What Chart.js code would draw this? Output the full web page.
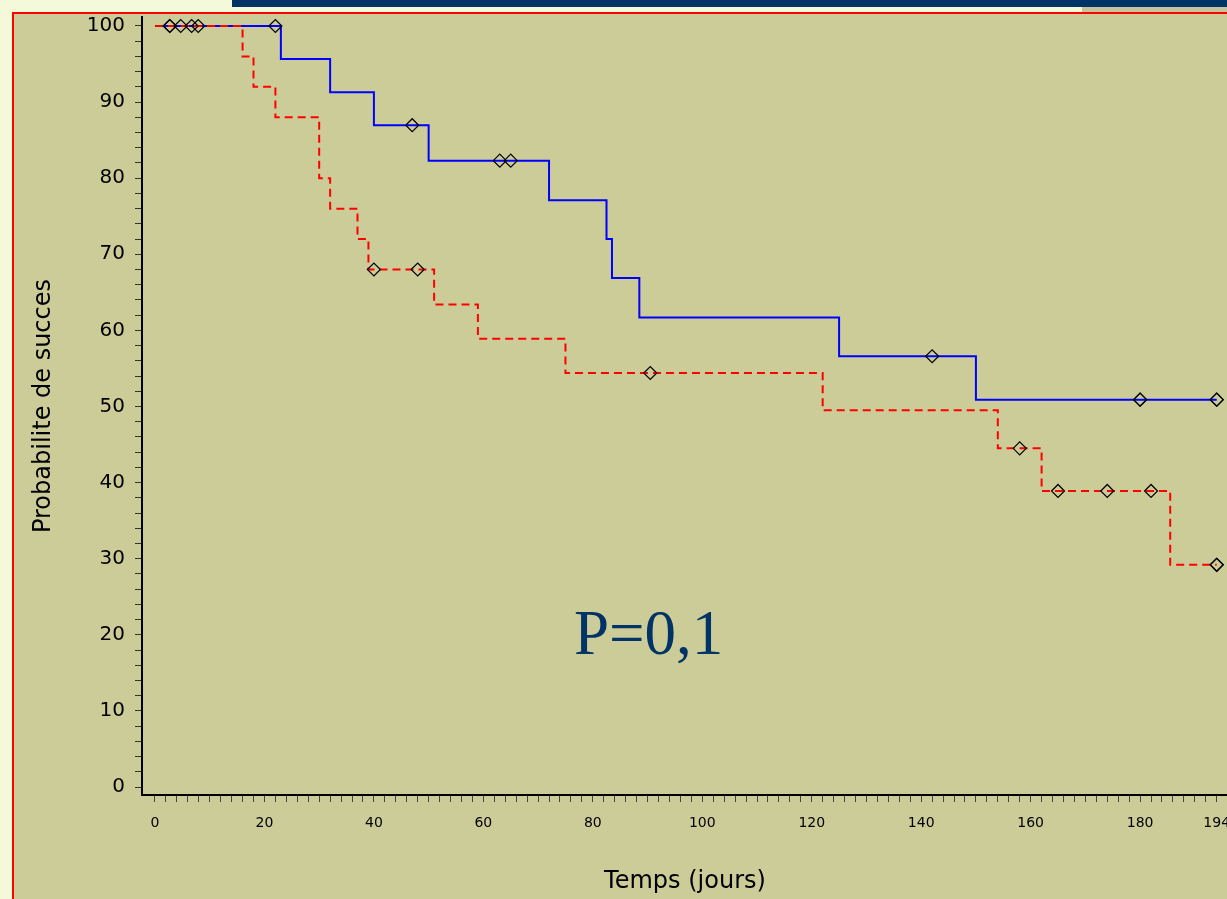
<!DOCTYPE html>
<html><head><meta charset="utf-8">
<script src="https://cdn.jsdelivr.net/npm/chart.js@4.4.0/dist/chart.umd.min.js"></script>
<style>
html,body{margin:0;padding:0;width:1227px;height:899px;overflow:hidden;background:#F4F9D9;}
#bar{position:absolute;left:232px;top:0;width:995px;height:7px;background:#003366;}
#strip{position:absolute;left:1082px;top:7px;width:145px;height:5px;background:#C7C39C;}
#frame{position:absolute;left:12px;top:12px;width:1300px;height:1000px;border-left:2px solid #FF0000;border-top:2px solid #FF0000;background:#CCCC99;}
#wrap{position:absolute;left:0;top:0;width:1240px;height:899px;}
</style></head><body>
<div id="bar"></div><div id="strip"></div><div id="frame"></div>
<div id="wrap"><canvas id="c" width="1240" height="899"></canvas></div>
<script>
// ---- data ----
const blueTimes = [0, 23, 32, 40, 50, 72, 82.5, 83.5, 88.5, 125, 150, 194];
const blueSurv  = [100, 95.65, 91.3, 86.96, 82.3, 77.1, 72.0, 66.9, 61.7, 56.6, 50.9, 50.9];
const blueCensorTimes = [2.7, 7.9, 22, 47, 63, 65, 142, 180, 180, 194, 194];
const redTimes = [0, 16, 18, 22, 30, 32, 37, 39, 51, 59, 75, 122, 154, 162, 185.5, 194];
const redSurv  = [100, 96, 92, 88, 80, 76, 72, 68, 63.4, 58.9, 54.4, 49.5, 44.5, 38.9, 29.2, 29.2];
const redCensorTimes = [2.7, 4.7, 6.7, 40, 48, 90.5, 158, 165, 174, 182, 194, 194];
const xTickLabels = [0, 20, 40, 60, 80, 100, 120, 140, 160, 180, 194];
const yTickLabels = [0, 10, 20, 30, 40, 50, 60, 70, 80, 90, 100];
const xTitle = 'Temps (jours)';
const yTitle = 'Probabilite de succes';
const annotationText = 'P=0,1';

function stepValue(times, surv, t) {
  let v = surv[0];
  for (let i = 0; i < times.length; i++) { if (times[i] <= t) v = surv[i]; }
  return v;
}
const bluePts = blueTimes.map((t, i) => ({x: t, y: blueSurv[i]}));
const redPts = redTimes.map((t, i) => ({x: t, y: redSurv[i]}));
const blueCens = blueCensorTimes.map(t => ({x: t, y: stepValue(blueTimes, blueSurv, t)}));
const redCens = redCensorTimes.map(t => ({x: t, y: stepValue(redTimes, redSurv, t)}));

const annot = {
  id: 'annot',
  afterDatasetsDraw(chart) {
    const ctx = chart.ctx;
    ctx.save();
    ctx.font = '63px "Liberation Serif"';
    ctx.fillStyle = '#003366';
    ctx.textBaseline = 'alphabetic';
    ctx.fillText(annotationText, 574, 654);
    ctx.restore();
  }
};

const censorStyle = {
  type: 'line', showLine: false, pointStyle: 'rectRot', pointRadius: 6.5,
  pointBorderColor: '#000', pointBorderWidth: 1.2, pointBackgroundColor: 'rgba(0,0,0,0)'
};

new Chart(document.getElementById('c'), {
  type: 'line',
  data: {
    datasets: [
      Object.assign({label: 'cens1', data: blueCens}, censorStyle),
      Object.assign({label: 'cens2', data: redCens}, censorStyle),
      {label: 'g2', data: redPts, stepped: 'before', borderColor: '#FF0000', borderWidth: 2,
       borderDash: [8, 5], pointRadius: 0, fill: false},
      {label: 'g1', data: bluePts, stepped: 'before', borderColor: '#0000FF', borderWidth: 2,
       pointRadius: 0, fill: false}
    ]
  },
  options: {
    responsive: false, animation: false,
    layout: {padding: {left: 0, top: 17, right: 12, bottom: 0}},
    plugins: {legend: {display: false}, tooltip: {enabled: false}},
    scales: {
      x: {
        type: 'linear', min: -2.375, max: 196.06,
        afterBuildTicks(s) { const a = []; for (let v = 0; v <= 194; v += 2) a.push({value: v}); s.ticks = a; },
        afterFit(s) { s.height = 104; s.paddingLeft = 0; s.paddingRight = 0; },
        ticks: {autoSkip: false, maxRotation: 0, minRotation: 0, padding: 13, color: '#000',
          font: {family: 'DejaVu Sans', size: 14},
          callback: (v) => xTickLabels.includes(v) ? String(v) : ''},
        grid: {drawOnChartArea: false, drawTicks: true, tickLength: 7, color: '#444', lineWidth: 1},
        border: {display: true, color: '#000', width: 2},
        title: {display: true, text: xTitle, color: '#000', font: {family: 'DejaVu Sans', size: 24},
          padding: {top: 0, bottom: 3}}
      },
      y: {
        type: 'linear', min: -1.05, max: 101.18,
        afterBuildTicks(s) { const a = []; for (let v = 0; v <= 100; v += 2) a.push({value: v}); s.ticks = a; },
        afterFit(s) { s.width = 142; s.paddingTop = 0; s.paddingBottom = 0; },
        ticks: {autoSkip: false, padding: 10, color: '#000',
          font: {family: 'DejaVu Sans', size: 20},
          callback: (v) => yTickLabels.includes(v) ? String(v) : ''},
        grid: {drawOnChartArea: false, drawTicks: true, tickLength: 7, color: '#333', lineWidth: 1},
        border: {display: true, color: '#000', width: 2},
        title: {display: true, text: yTitle, color: '#000', font: {family: 'DejaVu Sans', size: 24},
          padding: {top: 29, bottom: 0}}
      }
    }
  },
  plugins: [annot]
});
</script>
</body></html>
